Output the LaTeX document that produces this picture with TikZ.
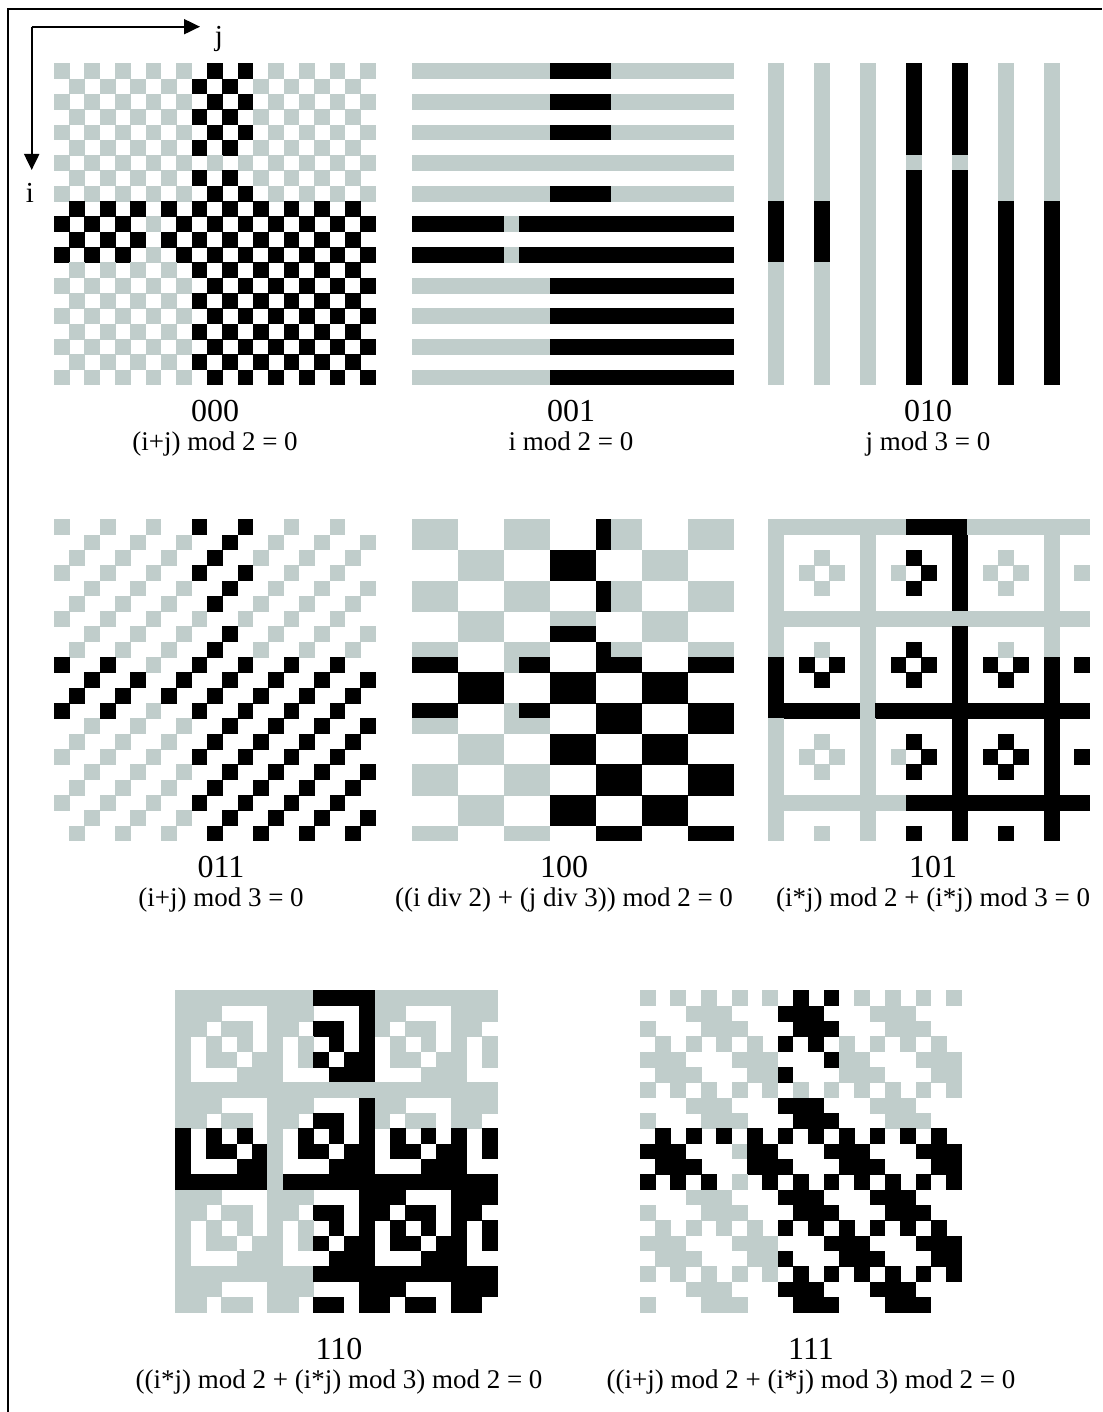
\documentclass[tikz,border=0pt]{standalone}
\usepackage{fontspec}
\setmainfont{Liberation Serif}
\usetikzlibrary{arrows.meta}
\definecolor{qgray}{RGB}{192,205,203}
\tikzset{
  numlabel/.style={anchor=base,inner sep=0pt,font=\fontsize{32}{38}\selectfont},
  formlabel/.style={anchor=base,inner sep=0pt,font=\fontsize{27}{32}\selectfont},
  axisline/.style={line width=2pt,-{Triangle[length=16pt,width=15pt]}},
  frameline/.style={line width=2pt}
}
\newcommand{\qrpanel}[3]{%
  \foreach \i in {0,...,20}{%
    \foreach \j in {0,...,20}{%
      \pgfmathtruncatemacro{\qm}{#3}%
      \ifnum\qm=1
        \pgfmathtruncatemacro{\qd}{(((\j>=9)&&(\j<=12)&&(\i<=8)&&(\i!=6))||((\i>=9)&&(\i<=12)&&(\j!=6))||((\i>=13)&&(\j>=9)))}%
        \ifnum\qd=1 \def\qc{black}\else\def\qc{qgray}\fi
        \fill[fill=\qc] ({#1+\j*15.32-0.25},{#2+\i*15.32-0.25}) rectangle ++(15.82,15.82);
      \fi
    }%
  }%
}
\begin{document}
\begin{tikzpicture}[x=1pt,y=-1pt]
\useasboundingbox (0,0) rectangle (1102,1412);
% frame
\draw[frameline] (7.5,1412) -- (7.5,9) -- (1102,9);
% axes
\coordinate (o) at (31.7,26.7);
\coordinate (jend) at (200,26.7);
\coordinate (iend) at (31.7,170);
\draw[axisline] (o) -- (jend);
\draw[axisline] (o) -- (iend);
\node[formlabel,font=\fontsize{29}{34}\selectfont] (jlab) at (219,46) {j};
\node[formlabel,font=\fontsize{29}{34}\selectfont] (ilab) at (30,203) {i};
% panels
\qrpanel{54}{63.5}{mod(\i+\j,2)==0}
\qrpanel{412}{63.5}{mod(\i,2)==0}
\qrpanel{768.3}{63.5}{mod(\j,3)==0}
\qrpanel{54}{519.5}{mod(\i+\j,3)==0}
\qrpanel{412}{519.5}{mod(floor(\i/2)+floor(\j/3),2)==0}
\qrpanel{768.3}{519.5}{(mod(\i*\j,2)+mod(\i*\j,3))==0}
\qrpanel{175.7}{990.7}{mod(mod(\i*\j,2)+mod(\i*\j,3),2)==0}
\qrpanel{640}{990.7}{mod(mod(\i+\j,2)+mod(\i*\j,3),2)==0}
% labels
\node[numlabel] (n000) at (215,421) {000};
\node[formlabel] (f000) at (215,450) {(i+j) mod 2 = 0};
\node[numlabel] (n001) at (571,421) {001};
\node[formlabel] (f001) at (571,450) {i mod 2 = 0};
\node[numlabel] (n010) at (928,421) {010};
\node[formlabel] (f010) at (928,450) {j mod 3 = 0};
\node[numlabel] (n011) at (221,877) {011};
\node[formlabel] (f011) at (221,906) {(i+j) mod 3 = 0};
\node[numlabel] (n100) at (564,877) {100};
\node[formlabel] (f100) at (564,906) {((i div 2) + (j div 3)) mod 2 = 0};
\node[numlabel] (n101) at (933,877) {101};
\node[formlabel] (f101) at (933,906) {(i*j) mod 2 + (i*j) mod 3 = 0};
\node[numlabel] (n110) at (339,1359) {110};
\node[formlabel] (f110) at (339,1388) {((i*j) mod 2 + (i*j) mod 3) mod 2 = 0};
\node[numlabel] (n111) at (811,1359) {111};
\node[formlabel] (f111) at (811,1388) {((i+j) mod 2 + (i*j) mod 3) mod 2 = 0};
\end{tikzpicture}
\end{document}
